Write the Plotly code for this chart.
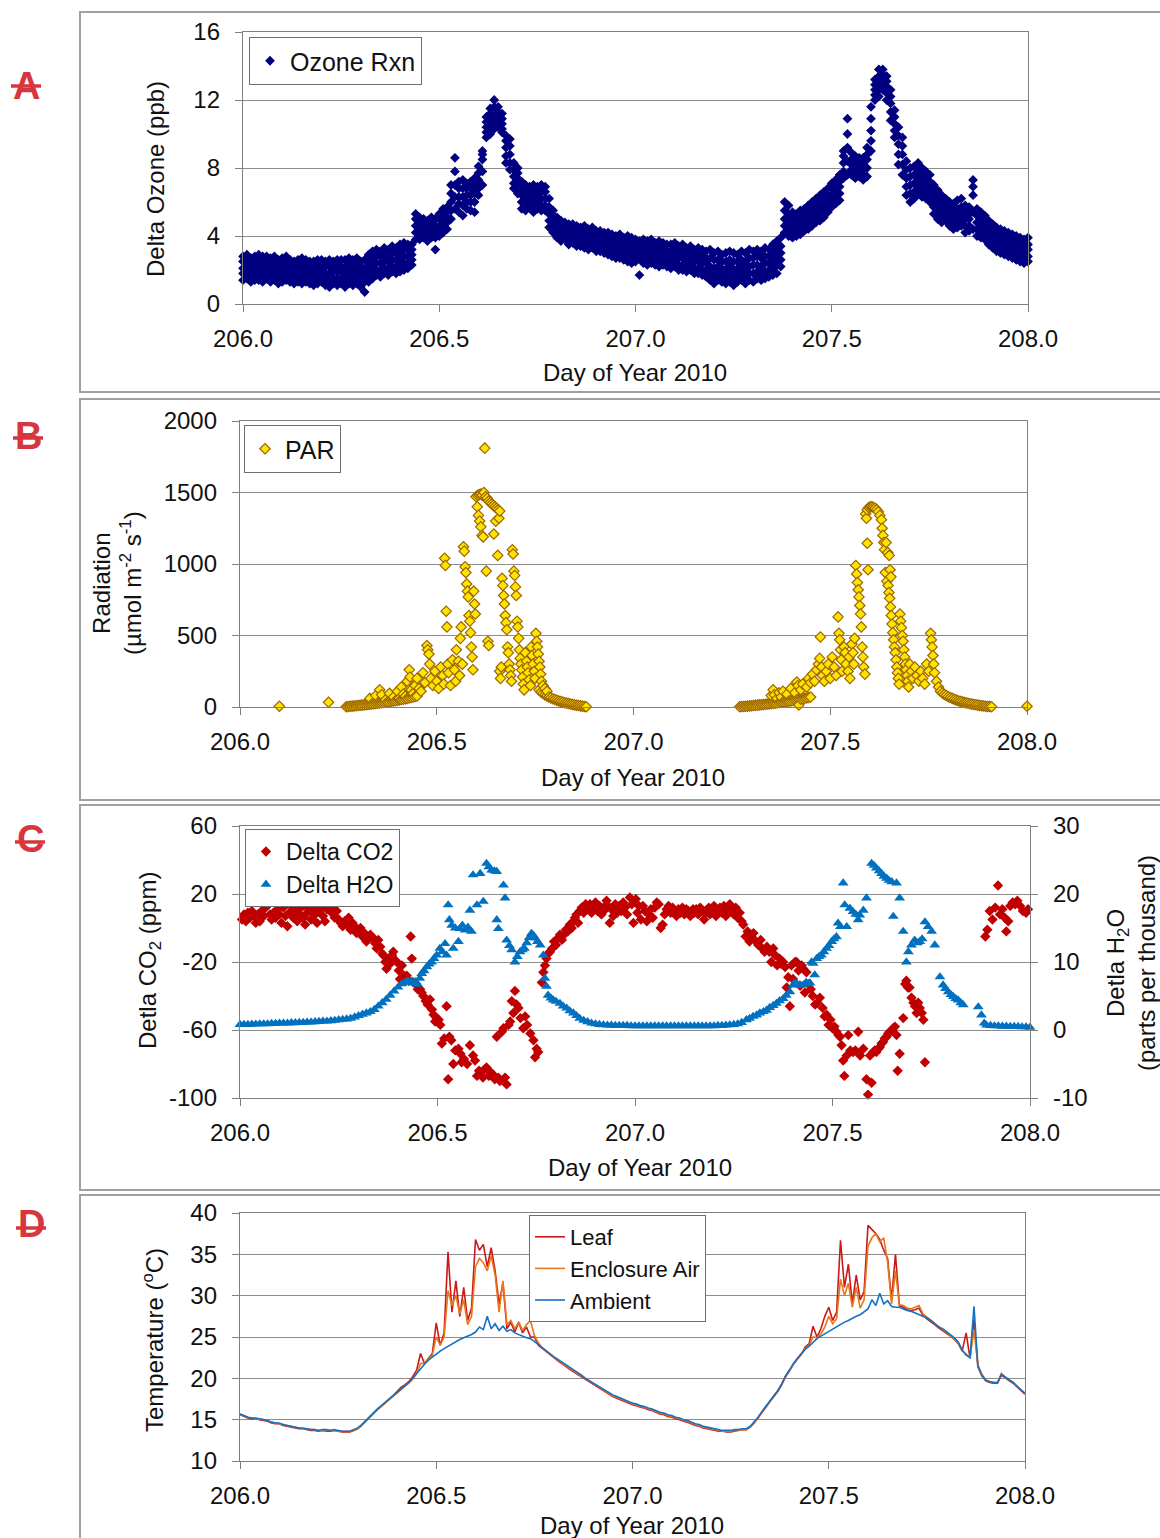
import plotly.graph_objects as go

W, H = 1160, 1538
FONT = "Arial, Liberation Sans, sans-serif"
TXT = "#111111"

def px(v):
    return v / W

def py(v):
    return 1 - v / H

# ---------------- shared axis data ----------------
x_tick_vals = [206.0, 206.5, 207.0, 207.5, 208.0]
x_tick_text = ["206.0", "206.5", "207.0", "207.5", "208.0"]
x_title = "Day of Year 2010"

# sample days (0.01 d) used by panels A and D
grid_day = [
    206.00, 206.01, 206.02, 206.03, 206.04, 206.05, 206.06, 206.07, 206.08, 206.09,
    206.10, 206.11, 206.12, 206.13, 206.14, 206.15, 206.16, 206.17, 206.18, 206.19,
    206.20, 206.21, 206.22, 206.23, 206.24, 206.25, 206.26, 206.27, 206.28, 206.29,
    206.30, 206.31, 206.32, 206.33, 206.34, 206.35, 206.36, 206.37, 206.38, 206.39,
    206.40, 206.41, 206.42, 206.43, 206.44, 206.45, 206.46, 206.47, 206.48, 206.49,
    206.50, 206.51, 206.52, 206.53, 206.54, 206.55, 206.56, 206.57, 206.58, 206.59,
    206.60, 206.61, 206.62, 206.63, 206.64, 206.65, 206.66, 206.67, 206.68, 206.69,
    206.70, 206.71, 206.72, 206.73, 206.74, 206.75, 206.76, 206.77, 206.78, 206.79,
    206.80, 206.81, 206.82, 206.83, 206.84, 206.85, 206.86, 206.87, 206.88, 206.89,
    206.90, 206.91, 206.92, 206.93, 206.94, 206.95, 206.96, 206.97, 206.98, 206.99,
    207.00, 207.01, 207.02, 207.03, 207.04, 207.05, 207.06, 207.07, 207.08, 207.09,
    207.10, 207.11, 207.12, 207.13, 207.14, 207.15, 207.16, 207.17, 207.18, 207.19,
    207.20, 207.21, 207.22, 207.23, 207.24, 207.25, 207.26, 207.27, 207.28, 207.29,
    207.30, 207.31, 207.32, 207.33, 207.34, 207.35, 207.36, 207.37, 207.38, 207.39,
    207.40, 207.41, 207.42, 207.43, 207.44, 207.45, 207.46, 207.47, 207.48, 207.49,
    207.50, 207.51, 207.52, 207.53, 207.54, 207.55, 207.56, 207.57, 207.58, 207.59,
    207.60, 207.61, 207.62, 207.63, 207.64, 207.65, 207.66, 207.67, 207.68, 207.69,
    207.70, 207.71, 207.72, 207.73, 207.74, 207.75, 207.76, 207.77, 207.78, 207.79,
    207.80, 207.81, 207.82, 207.83, 207.84, 207.85, 207.86, 207.87, 207.88, 207.89,
    207.90, 207.91, 207.92, 207.93, 207.94, 207.95, 207.96, 207.97, 207.98, 207.99,
    208.00,
]

# ---------------- Panel A: Delta ozone (ppb), five readings across the scatter band ----------------
ozone_low = [
    1.4, 1.5, 1.3, 1.4, 1.4, 1.3, 1.5, 1.3, 1.4, 1.2,
    1.3, 1.4, 1.3, 1.2, 1.3, 1.2, 1.3, 1.2, 1.1, 1.2,
    1.3, 1.1, 1.0, 1.2, 1.1, 1.2, 1.0, 1.2, 1.1, 1.2,
    1.0, 0.7, 1.3, 1.5, 1.7, 1.6, 1.8, 1.7, 1.9, 1.8,
    1.9, 2.0, 2.1, 2.3, 3.8, 3.8, 3.9, 3.7, 3.9, 3.2,
    4.0, 4.2, 4.4, 5.0, 5.6, 5.4, 5.2, 5.6, 5.5, 5.4,
    6.4, 7.0, 9.8, 10.0, 10.3, 10.4, 10.1, 8.3, 7.9, 6.8,
    6.5, 5.6, 5.5, 5.7, 5.4, 5.6, 5.5, 5.5, 4.5, 4.2,
    3.9, 3.7, 3.8, 3.5, 3.6, 3.4, 3.4, 3.3, 3.2, 3.3,
    3.1, 3.1, 3.0, 2.9, 2.8, 2.7, 2.7, 2.6, 2.5, 2.4,
    2.5, 1.7, 2.4, 2.3, 2.4, 2.3, 2.2, 2.3, 2.2, 2.1,
    2.2, 2.0, 2.0, 1.9, 2.0, 1.8, 1.8, 1.7, 1.6, 1.4,
    1.2, 1.4, 1.3, 1.2, 1.3, 1.1, 1.3, 1.4, 1.2, 1.4,
    1.3, 1.5, 1.4, 1.5, 1.6, 1.7, 1.8, 2.2, 4.2, 4.0,
    3.9, 4.0, 4.1, 4.3, 4.4, 4.6, 4.8, 4.9, 5.1, 5.4,
    5.7, 5.9, 6.1, 7.4, 7.6, 7.6, 7.4, 7.5, 7.3, 7.5,
    9.0, 12.0, 12.2, 12.6, 12.0, 10.8, 9.8, 8.2, 7.6, 6.4,
    6.0, 6.2, 6.5, 6.3, 6.2, 6.0, 5.3, 5.0, 4.8, 4.9,
    4.6, 4.4, 4.5, 4.6, 4.2, 4.3, 4.4, 4.0, 3.9, 3.8,
    3.5, 3.3, 3.1, 3.0, 2.9, 2.8, 2.7, 2.6, 2.5, 2.4,
    2.5,
]
ozone_lower_mid = [
    1.8, 1.8, 1.6, 1.7, 1.8, 1.7, 1.8, 1.6, 1.7, 1.6,
    1.6, 1.7, 1.6, 1.5, 1.7, 1.5, 1.6, 1.5, 1.4, 1.5,
    1.6, 1.5, 1.4, 1.5, 1.5, 1.5, 1.4, 1.6, 1.5, 1.6,
    1.4, 1.3, 1.6, 1.8, 2.0, 2.0, 2.1, 2.1, 2.2, 2.2,
    2.3, 2.4, 2.4, 2.6, 4.2, 4.1, 4.1, 4.0, 4.1, 3.9,
    4.3, 4.5, 4.8, 5.5, 6.3, 5.9, 5.8, 6.0, 6.0, 6.0,
    6.8, 7.8, 10.1, 10.4, 10.7, 10.7, 10.3, 8.7, 8.3, 7.1,
    6.9, 6.0, 5.8, 6.0, 5.8, 5.9, 5.8, 5.8, 4.9, 4.5,
    4.2, 4.0, 4.0, 3.8, 3.8, 3.7, 3.6, 3.6, 3.5, 3.5,
    3.4, 3.3, 3.3, 3.2, 3.1, 3.0, 3.0, 2.9, 2.9, 2.8,
    2.8, 2.7, 2.7, 2.6, 2.7, 2.6, 2.5, 2.6, 2.5, 2.4,
    2.5, 2.3, 2.3, 2.2, 2.3, 2.1, 2.1, 2.0, 2.0, 1.8,
    1.6, 1.8, 1.7, 1.6, 1.7, 1.5, 1.7, 1.8, 1.6, 1.8,
    1.8, 1.9, 1.8, 1.9, 2.0, 2.1, 2.3, 2.6, 4.6, 4.4,
    4.2, 4.3, 4.4, 4.6, 4.7, 4.9, 5.1, 5.3, 5.5, 5.7,
    6.0, 6.2, 6.5, 7.8, 8.4, 7.9, 7.7, 7.8, 7.6, 8.0,
    9.6, 12.3, 12.6, 12.9, 12.4, 11.3, 10.2, 8.8, 8.2, 6.9,
    6.5, 6.6, 6.9, 6.7, 6.6, 6.4, 5.7, 5.4, 5.2, 5.2,
    4.9, 4.7, 4.8, 4.9, 4.6, 4.6, 5.4, 4.4, 4.2, 4.1,
    3.8, 3.6, 3.4, 3.3, 3.2, 3.1, 3.0, 2.9, 2.8, 2.7,
    2.8,
]
ozone_mid = [
    2.1, 2.2, 2.0, 2.1, 2.2, 2.0, 2.1, 2.0, 2.1, 1.9,
    2.0, 2.1, 1.9, 1.9, 2.0, 1.9, 2.0, 1.8, 1.8, 1.9,
    2.0, 1.8, 1.8, 1.9, 1.9, 1.9, 1.8, 2.0, 1.9, 2.0,
    1.8, 1.7, 2.0, 2.2, 2.4, 2.4, 2.5, 2.5, 2.6, 2.6,
    2.7, 2.8, 2.8, 2.9, 4.6, 4.5, 4.4, 4.3, 4.4, 4.2,
    4.6, 4.9, 5.1, 6.0, 7.0, 6.3, 6.3, 6.4, 6.4, 6.5,
    7.3, 8.5, 10.4, 10.8, 11.1, 11.0, 10.6, 9.2, 8.8, 7.5,
    7.4, 6.4, 6.2, 6.3, 6.2, 6.3, 6.2, 6.2, 5.3, 4.8,
    4.5, 4.3, 4.3, 4.1, 4.1, 4.0, 3.9, 3.9, 3.8, 3.8,
    3.7, 3.6, 3.6, 3.5, 3.5, 3.3, 3.4, 3.3, 3.2, 3.2,
    3.1, 3.0, 3.0, 3.0, 3.1, 2.9, 2.9, 2.9, 2.8, 2.8,
    2.8, 2.7, 2.7, 2.6, 2.6, 2.5, 2.5, 2.4, 2.4, 2.2,
    2.1, 2.2, 2.1, 2.0, 2.2, 2.0, 2.1, 2.2, 2.1, 2.2,
    2.3, 2.3, 2.2, 2.4, 2.4, 2.6, 2.8, 3.0, 5.0, 4.8,
    4.6, 4.7, 4.8, 4.9, 5.1, 5.3, 5.5, 5.7, 5.9, 6.1,
    6.4, 6.6, 6.9, 8.3, 9.2, 8.2, 8.0, 8.1, 7.9, 8.5,
    10.2, 12.6, 13.0, 13.2, 12.8, 11.8, 10.6, 9.4, 8.8, 7.4,
    7.0, 7.1, 7.3, 7.1, 7.0, 6.8, 6.2, 5.9, 5.6, 5.5,
    5.3, 5.1, 5.2, 5.3, 5.0, 5.0, 6.4, 4.8, 4.6, 4.5,
    4.2, 4.0, 3.8, 3.7, 3.6, 3.5, 3.4, 3.3, 3.2, 3.1,
    3.2,
]
ozone_upper_mid = [
    2.5, 2.5, 2.4, 2.4, 2.5, 2.4, 2.5, 2.3, 2.4, 2.3,
    2.3, 2.4, 2.3, 2.2, 2.3, 2.3, 2.3, 2.2, 2.1, 2.2,
    2.3, 2.2, 2.2, 2.2, 2.3, 2.2, 2.2, 2.3, 2.2, 2.3,
    2.2, 2.1, 2.4, 2.6, 2.8, 2.8, 2.9, 2.8, 3.0, 3.0,
    3.1, 3.2, 3.2, 3.2, 5.0, 4.8, 4.7, 4.6, 4.8, 4.6,
    5.0, 5.2, 5.4, 6.5, 7.8, 6.8, 6.8, 6.8, 6.8, 7.0,
    7.7, 8.8, 10.7, 11.2, 11.6, 11.3, 10.9, 9.6, 9.3, 7.9,
    7.7, 6.8, 6.6, 6.6, 6.6, 6.6, 6.6, 6.6, 5.7, 5.2,
    4.8, 4.6, 4.6, 4.4, 4.4, 4.3, 4.2, 4.2, 4.1, 4.1,
    4.0, 3.9, 3.9, 3.8, 3.8, 3.7, 3.7, 3.6, 3.6, 3.5,
    3.4, 3.3, 3.4, 3.3, 3.4, 3.2, 3.3, 3.2, 3.1, 3.1,
    3.2, 3.0, 3.1, 2.9, 3.0, 2.8, 2.9, 2.8, 2.7, 2.7,
    2.6, 2.6, 2.5, 2.5, 2.6, 2.5, 2.5, 2.6, 2.5, 2.7,
    2.7, 2.8, 2.7, 2.8, 2.8, 3.0, 3.2, 3.4, 5.5, 5.3,
    5.0, 5.0, 5.1, 5.2, 5.4, 5.6, 5.8, 6.0, 6.2, 6.4,
    6.8, 7.0, 7.2, 8.7, 10.0, 8.5, 8.4, 8.4, 8.2, 8.8,
    10.9, 12.9, 13.4, 13.5, 13.1, 12.2, 11.0, 9.9, 9.3, 7.9,
    7.5, 7.6, 7.8, 7.5, 7.4, 7.2, 6.6, 6.3, 6.0, 5.8,
    5.6, 5.5, 5.6, 5.7, 5.4, 5.3, 6.9, 5.2, 5.0, 4.8,
    4.5, 4.3, 4.1, 4.0, 3.9, 3.8, 3.7, 3.6, 3.5, 3.4,
    3.5,
]
ozone_high = [
    2.8, 2.9, 2.7, 2.8, 2.9, 2.8, 2.8, 2.7, 2.8, 2.6,
    2.7, 2.8, 2.6, 2.5, 2.6, 2.7, 2.6, 2.5, 2.5, 2.6,
    2.6, 2.5, 2.6, 2.5, 2.6, 2.6, 2.6, 2.7, 2.6, 2.7,
    2.5, 2.6, 2.9, 3.1, 3.2, 3.1, 3.3, 3.2, 3.4, 3.3,
    3.5, 3.6, 3.5, 3.5, 5.3, 5.1, 5.0, 4.9, 5.1, 5.0,
    5.3, 5.6, 5.7, 7.0, 8.6, 7.2, 7.3, 7.1, 7.2, 7.4,
    8.1, 9.0, 11.0, 11.5, 12.0, 11.6, 11.2, 9.9, 9.7, 8.3,
    8.0, 7.2, 7.0, 6.9, 7.0, 6.9, 7.0, 6.9, 6.2, 5.5,
    5.1, 4.9, 4.8, 4.7, 4.7, 4.6, 4.5, 4.6, 4.4, 4.5,
    4.3, 4.3, 4.2, 4.2, 4.1, 4.0, 4.1, 3.9, 4.0, 3.9,
    3.8, 3.7, 3.8, 3.7, 3.8, 3.6, 3.7, 3.6, 3.5, 3.5,
    3.6, 3.4, 3.5, 3.3, 3.4, 3.2, 3.3, 3.2, 3.1, 3.2,
    3.0, 3.1, 2.9, 3.0, 3.1, 3.0, 2.9, 3.1, 3.0, 3.2,
    3.1, 3.2, 3.1, 3.3, 3.2, 3.5, 3.7, 3.9, 6.0, 5.8,
    5.4, 5.3, 5.5, 5.6, 5.8, 6.0, 6.2, 6.4, 6.6, 6.8,
    7.1, 7.3, 7.6, 9.0, 10.9, 8.9, 8.7, 8.6, 8.6, 9.2,
    11.6, 13.2, 13.8, 13.8, 13.4, 12.6, 11.4, 10.4, 9.8, 8.4,
    8.0, 8.1, 8.3, 8.0, 7.8, 7.6, 7.0, 6.7, 6.4, 6.2,
    6.0, 5.9, 6.1, 6.2, 5.8, 5.7, 7.3, 5.6, 5.4, 5.2,
    4.9, 4.7, 4.5, 4.4, 4.3, 4.2, 4.1, 4.0, 3.9, 3.8,
    3.9,
]

# ---------------- Panel B: PAR (umol m-2 s-1) ----------------
par_dawn1_day = [
    206.270, 206.275, 206.280, 206.285, 206.290, 206.295, 206.300, 206.305, 206.310, 206.315,
    206.320, 206.325, 206.330, 206.335, 206.340, 206.345, 206.350, 206.355, 206.360, 206.365,
    206.370, 206.375, 206.380, 206.385, 206.390, 206.395, 206.400, 206.405, 206.410, 206.415,
    206.420, 206.425, 206.430, 206.435, 206.440, 206.445, 206.450,
]
par_dawn1_val = [
    2, 3, 5, 6, 7, 9, 10, 12, 13, 15,
    16, 18, 19, 21, 23, 25, 27, 28, 30, 32,
    34, 36, 38, 40, 42, 44, 47, 49, 52, 54,
    57, 60, 63, 66, 70, 73, 77,
]
par_dusk1_day = [
    206.760, 206.765, 206.770, 206.775, 206.780, 206.785, 206.790, 206.795, 206.800, 206.805,
    206.810, 206.815, 206.820, 206.825, 206.830, 206.835, 206.840, 206.845, 206.850, 206.855,
    206.860, 206.865, 206.870, 206.875, 206.880,
]
par_dusk1_val = [
    120, 105, 95, 85, 78, 70, 64, 58, 52, 47,
    42, 38, 34, 30, 27, 24, 21, 18, 15, 12,
    10, 8, 6, 4, 2,
]
par_dawn2_day = [
    207.270, 207.275, 207.280, 207.285, 207.290, 207.295, 207.300, 207.305, 207.310, 207.315,
    207.320, 207.325, 207.330, 207.335, 207.340, 207.345, 207.350, 207.355, 207.360, 207.365,
    207.370, 207.375, 207.380, 207.385, 207.390, 207.395, 207.400, 207.405, 207.410, 207.415,
    207.420, 207.425, 207.430, 207.435, 207.440, 207.445, 207.450,
]
par_dawn2_val = [
    2, 3, 4, 5, 6, 8, 9, 10, 12, 13,
    15, 16, 18, 19, 21, 22, 24, 26, 27, 29,
    31, 33, 35, 37, 39, 41, 43, 45, 48, 50,
    53, 55, 58, 61, 64, 67, 70,
]
par_dusk2_day = [
    207.780, 207.785, 207.790, 207.795, 207.800, 207.805, 207.810, 207.815, 207.820, 207.825,
    207.830, 207.835, 207.840, 207.845, 207.850, 207.855, 207.860, 207.865, 207.870, 207.875,
    207.880, 207.885, 207.890, 207.895, 207.900, 207.905, 207.910,
]
par_dusk2_val = [
    110, 98, 88, 80, 72, 66, 60, 54, 49, 44,
    40, 36, 32, 29, 26, 23, 20, 18, 16, 13,
    11, 9, 7, 5, 4, 3, 2,
]
par_points = [
    (206.100, 5), (206.225, 33),
    (206.330, 60), (206.345, 80), (206.355, 120), (206.360, 85), (206.370, 50), (206.380, 95),
    (206.390, 70), (206.400, 110), (206.405, 60), (206.410, 140), (206.415, 90), (206.420, 75),
    (206.425, 180), (206.430, 260), (206.432, 210), (206.435, 120), (206.440, 95), (206.445, 150),
    (206.450, 200), (206.455, 130), (206.460, 110), (206.465, 240), (206.470, 170), (206.475, 430),
    (206.477, 400), (206.480, 370), (206.482, 300), (206.485, 200), (206.490, 150), (206.495, 250),
    (206.500, 180), (206.505, 130), (206.510, 280), (206.515, 220), (206.518, 160), (206.520, 1040),
    (206.522, 990), (206.524, 670), (206.526, 560), (206.528, 300), (206.530, 240), (206.535, 150),
    (206.540, 330), (206.545, 260), (206.548, 180), (206.550, 400), (206.555, 320), (206.558, 220),
    (206.560, 480), (206.562, 560), (206.565, 300), (206.568, 1120), (206.570, 1090), (206.572, 980),
    (206.574, 940), (206.576, 860), (206.578, 810), (206.580, 770), (206.582, 640), (206.584, 600),
    (206.586, 520), (206.588, 420), (206.590, 350), (206.592, 260), (206.594, 810), (206.596, 720),
    (206.598, 650),
    (206.600, 1470), (206.604, 1480), (206.608, 1485), (206.612, 1490), (206.616, 1480), (206.620, 1500),
    (206.624, 1470), (206.628, 1460), (206.632, 1440), (206.636, 1430), (206.640, 1420), (206.644, 1410),
    (206.648, 1400), (206.652, 1390), (206.656, 1380), (206.660, 1370),
    (206.603, 1400), (206.606, 1340), (206.609, 1300), (206.612, 1260), (206.615, 1200), (206.618, 1190),
    (206.622, 1810), (206.626, 950), (206.630, 460), (206.632, 430), (206.645, 1210), (206.650, 1300),
    (206.655, 1060), (206.658, 1320),
    (206.660, 250), (206.662, 200), (206.664, 280), (206.666, 900), (206.668, 850), (206.670, 780),
    (206.672, 720), (206.674, 640), (206.676, 590), (206.678, 540), (206.680, 420), (206.682, 380),
    (206.684, 300), (206.686, 260), (206.688, 220), (206.690, 180), (206.692, 1100), (206.694, 1070),
    (206.696, 950), (206.698, 920), (206.700, 840), (206.702, 780), (206.704, 600), (206.706, 560),
    (206.708, 480), (206.710, 400), (206.712, 340), (206.714, 300), (206.716, 260), (206.718, 210),
    (206.720, 160), (206.722, 120), (206.725, 380), (206.728, 320), (206.730, 280), (206.732, 240),
    (206.735, 190), (206.738, 150), (206.740, 420), (206.742, 360), (206.745, 300), (206.748, 250),
    (206.750, 200), (206.752, 515), (206.754, 460), (206.756, 420), (206.758, 370), (206.760, 320),
    (206.762, 280), (206.764, 230), (206.766, 180), (206.770, 150), (206.775, 130), (206.780, 110),
    (207.350, 80), (207.355, 120), (207.358, 85), (207.365, 60), (207.370, 100), (207.375, 70),
    (207.380, 110), (207.390, 90), (207.400, 130), (207.410, 100), (207.415, 175), (207.418, 150),
    (207.420, 14), (207.425, 120), (207.430, 160), (207.440, 140), (207.445, 200), (207.450, 170),
    (207.455, 230), (207.460, 180), (207.465, 260), (207.470, 300), (207.473, 340), (207.475, 490),
    (207.478, 280), (207.480, 220), (207.485, 180), (207.490, 250), (207.495, 300), (207.500, 200),
    (207.505, 350), (207.510, 280), (207.515, 220), (207.520, 630), (207.522, 515), (207.524, 470),
    (207.526, 400), (207.528, 330), (207.530, 250), (207.535, 420), (207.538, 380), (207.540, 300),
    (207.545, 250), (207.548, 350), (207.550, 200), (207.555, 440), (207.558, 380), (207.560, 300),
    (207.562, 480), (207.565, 990), (207.567, 930), (207.569, 870), (207.571, 820), (207.573, 770),
    (207.575, 710), (207.577, 650), (207.579, 560), (207.581, 420), (207.583, 350), (207.585, 280),
    (207.588, 230),
    (207.590, 1350), (207.594, 1380), (207.598, 1395), (207.602, 1400), (207.606, 1400), (207.610, 1395),
    (207.614, 1390), (207.618, 1380), (207.622, 1365), (207.626, 1340), (207.630, 1310),
    (207.592, 1320), (207.594, 1145), (207.596, 960), (207.632, 1250), (207.634, 1200), (207.636, 1150),
    (207.638, 1100), (207.642, 1150), (207.646, 1080), (207.650, 1060), (207.652, 960), (207.654, 910),
    (207.640, 940), (207.644, 880), (207.647, 850), (207.649, 800), (207.651, 760), (207.653, 700),
    (207.655, 640), (207.657, 580), (207.659, 520), (207.661, 470), (207.663, 420), (207.665, 380),
    (207.667, 330), (207.669, 280), (207.671, 240), (207.673, 200), (207.675, 160), (207.677, 650),
    (207.679, 600), (207.681, 555), (207.683, 500), (207.685, 460), (207.687, 400), (207.689, 350),
    (207.691, 300), (207.693, 260), (207.695, 220), (207.697, 180), (207.699, 140), (207.702, 300),
    (207.706, 250), (207.710, 200), (207.715, 280), (207.720, 220), (207.725, 180), (207.730, 250),
    (207.735, 200), (207.740, 160), (207.745, 300), (207.750, 250), (207.755, 515), (207.757, 470),
    (207.759, 420), (207.761, 360), (207.763, 300), (207.765, 240), (207.770, 180), (207.775, 140),
    (208.000, 5),
]

# ---------------- Panel C: Delta CO2 (ppm) & Delta H2O (ppt) ----------------
co2_points = [
    (206.005, 5), (206.010, 8), (206.015, 4), (206.020, 9), (206.025, 6), (206.030, 10), (206.035, 7),
    (206.040, 3), (206.045, 8), (206.050, 4), (206.055, 10), (206.060, 7), (206.065, 12), (206.072, 14),
    (206.076, 8), (206.080, 5), (206.085, 9), (206.090, 6), (206.095, 11), (206.100, 8), (206.105, 3),
    (206.110, 12), (206.115, 7), (206.120, 1), (206.125, 9), (206.130, 13), (206.135, 6), (206.140, 10),
    (206.145, 4), (206.150, 8), (206.155, 12), (206.160, 6), (206.165, 2), (206.170, 9), (206.175, 11),
    (206.180, 5), (206.185, 12), (206.190, 8), (206.195, 3), (206.200, 10), (206.205, 13), (206.210, 7),
    (206.215, 4), (206.220, 11), (206.228, 14), (206.232, 9), (206.236, 12), (206.240, 6), (206.245, 10),
    (206.250, 5), (206.255, 3), (206.260, 1), (206.265, 4), (206.270, 2), (206.275, 6), (206.280, -1),
    (206.285, 3), (206.290, 1), (206.295, -3), (206.300, -2), (206.305, 0), (206.310, -5), (206.315, -3),
    (206.320, -8), (206.325, -6), (206.330, -4), (206.338, -6), (206.342, -9), (206.346, -12), (206.350, -7),
    (206.355, -11), (206.360, -15), (206.363, -16), (206.368, -20), (206.371, -24), (206.375, -18),
    (206.380, -21), (206.385, -16), (206.388, -14), (206.393, -19), (206.397, -20), (206.402, -25),
    (206.405, -30), (206.410, -22), (206.415, -28), (206.422, -28), (206.427, -31), (206.432, -5),
    (206.435, -18), (206.439, -32), (206.445, -33), (206.450, -36), (206.456, -36), (206.460, -38),
    (206.464, -40), (206.470, -43), (206.475, -45), (206.481, -42), (206.486, -48), (206.490, -51),
    (206.494, -55), (206.498, -53), (206.503, -54), (206.507, -57), (206.511, -68), (206.517, -65),
    (206.523, -46), (206.527, -89), (206.530, -64), (206.535, -66), (206.540, -80), (206.545, -72),
    (206.553, -71), (206.558, -74), (206.561, -79), (206.567, -77), (206.575, -80), (206.582, -69),
    (206.590, -75), (206.595, -78), (206.600, -87), (206.605, -84), (206.610, -85), (206.615, -88),
    (206.620, -83), (206.624, -82), (206.630, -87), (206.635, -85), (206.640, -86), (206.645, -89),
    (206.650, -64), (206.654, -88), (206.658, -90), (206.663, -61), (206.667, -59), (206.671, -88),
    (206.675, -92), (206.680, -57), (206.684, -55), (206.688, -43), (206.692, -50), (206.696, -37),
    (206.700, -45), (206.705, -47), (206.710, -53), (206.717, -59), (206.722, -52), (206.727, -57),
    (206.735, -62), (206.743, -66), (206.747, -76), (206.751, -71), (206.755, -73), (206.764, -32),
    (206.768, -26), (206.772, -22), (206.776, -18), (206.780, -15), (206.785, -14), (206.790, -12),
    (206.795, -8), (206.800, -10), (206.805, -6), (206.810, -4), (206.815, -7), (206.820, -4),
    (206.825, -1), (206.830, -2), (206.835, 2), (206.840, 0), (206.844, 4), (206.848, 6), (206.852, 8),
    (206.856, 3), (206.860, 10), (206.865, 12), (206.870, 9), (206.875, 14), (206.880, 11), (206.886, 14),
    (206.890, 9), (206.895, 12), (206.900, 15), (206.905, 10), (206.910, 13), (206.915, 8), (206.920, 12),
    (206.925, 11), (206.928, 16), (206.932, 13), (206.936, 3), (206.940, 11), (206.945, 7), (206.950, 14),
    (206.955, 9), (206.960, 13), (206.965, 10), (206.970, 15), (206.975, 12), (206.980, 8), (206.987, 18),
    (206.992, 14), (206.996, 3),
    (207.002, 17), (207.006, 9), (207.010, 13), (207.015, 5), (207.020, 13), (207.025, 10), (207.030, 4),
    (207.035, 8), (207.040, 11), (207.045, 6), (207.050, 12), (207.055, 15), (207.060, 14), (207.065, 0),
    (207.070, 2), (207.075, 8), (207.080, 11), (207.085, 13), (207.090, 9), (207.095, 12), (207.100, 10),
    (207.105, 7), (207.110, 11), (207.115, 9), (207.120, 12), (207.125, 8), (207.130, 11), (207.135, 10),
    (207.140, 7), (207.147, 11), (207.150, 9), (207.155, 11), (207.160, 8), (207.165, 12), (207.170, 10),
    (207.175, 5), (207.180, 9), (207.187, 12), (207.190, 8), (207.195, 11), (207.200, 13), (207.205, 7),
    (207.210, 10), (207.215, 12), (207.220, 9), (207.225, 13), (207.230, 7), (207.235, 11), (207.240, 14),
    (207.245, 10), (207.250, 8), (207.255, 12), (207.260, 6), (207.265, 9), (207.270, 4), (207.274, 2),
    (207.280, -5), (207.285, -2), (207.290, -8), (207.295, -5), (207.300, -3), (207.307, -8), (207.312, -10),
    (207.318, -7), (207.322, -12), (207.328, -14), (207.334, -11), (207.340, -14), (207.345, -20),
    (207.350, -12), (207.355, -16), (207.360, -22), (207.366, -18), (207.370, -21), (207.375, -20),
    (207.380, -23), (207.384, -35), (207.388, -29), (207.392, -46), (207.396, -22), (207.400, -30),
    (207.405, -20), (207.409, -20), (207.414, -25), (207.418, -34), (207.422, -22), (207.426, -24),
    (207.430, -38), (207.434, -26), (207.440, -33), (207.445, -36), (207.450, -40), (207.456, -45),
    (207.462, -44), (207.468, -41), (207.475, -47), (207.480, -52), (207.485, -51), (207.490, -57),
    (207.495, -54), (207.500, -59), (207.505, -58), (207.510, -61), (207.515, -63), (207.519, -64),
    (207.523, -69), (207.527, -78), (207.530, -87), (207.536, -75), (207.540, -63), (207.545, -72),
    (207.552, -73), (207.558, -72), (207.565, -61), (207.570, -75), (207.578, -71), (207.586, -89),
    (207.590, -98), (207.595, -75), (207.599, -91), (207.603, -73), (207.607, -72), (207.611, -73),
    (207.616, -71), (207.620, -70), (207.624, -68), (207.628, -67), (207.632, -65), (207.637, -64),
    (207.641, -62), (207.645, -61), (207.650, -60), (207.654, -59), (207.658, -58), (207.662, -63),
    (207.665, -84), (207.670, -74), (207.679, -53), (207.684, -33), (207.687, -31), (207.691, -35),
    (207.695, -35), (207.700, -41), (207.705, -44), (207.709, -46), (207.713, -50), (207.717, -44),
    (207.721, -47), (207.726, -50), (207.730, -54), (207.734, -79),
    (207.887, -5), (207.892, -1), (207.898, 10), (207.905, 5), (207.912, 12), (207.919, 25), (207.924, 8),
    (207.930, 11), (207.936, 6), (207.940, -2), (207.945, 4), (207.950, 13), (207.956, 15), (207.962, 14),
    (207.968, 16), (207.975, 13), (207.982, 10), (207.990, 9), (207.995, 11),
]

h2o_points = [
    (206.00, 0.8), (206.01, 0.8), (206.02, 0.8), (206.03, 0.85), (206.04, 0.85), (206.05, 0.9),
    (206.06, 0.9), (206.07, 0.9), (206.08, 0.95), (206.09, 0.95), (206.10, 1.0), (206.11, 1.0),
    (206.12, 1.0), (206.13, 1.05), (206.14, 1.05), (206.15, 1.1), (206.16, 1.1), (206.17, 1.15),
    (206.18, 1.15), (206.19, 1.2), (206.20, 1.25), (206.21, 1.3), (206.22, 1.3), (206.23, 1.35),
    (206.24, 1.4), (206.25, 1.5), (206.26, 1.55), (206.27, 1.6), (206.28, 1.7), (206.29, 1.9),
    (206.30, 2.1), (206.31, 2.3), (206.32, 2.5), (206.33, 2.7), (206.34, 3.0), (206.35, 3.5),
    (206.36, 4.0), (206.37, 4.5), (206.38, 5.1), (206.39, 5.7), (206.40, 6.3), (206.41, 6.8),
    (206.42, 7.1),
    (206.425, 7.2), (206.430, 7.0), (206.435, 7.2), (206.440, 6.9), (206.445, 7.1), (206.450, 6.7),
    (206.455, 7.6), (206.460, 8.3), (206.466, 8.7), (206.473, 9.3), (206.479, 9.7), (206.485, 10.0),
    (206.491, 10.5), (206.498, 11.0), (206.506, 12.0), (206.512, 11.5), (206.519, 12.7), (206.523, 11.0),
    (206.527, 18.4), (206.530, 16.2), (206.536, 15.4), (206.540, 12.0), (206.545, 15.0), (206.553, 13.0),
    (206.556, 14.9), (206.563, 15.4), (206.570, 14.7), (206.577, 15.1), (206.582, 17.6), (206.586, 14.5),
    (206.590, 22.8), (206.600, 18.4), (206.608, 23.0), (206.616, 18.9), (206.624, 24.5), (206.630, 24.0),
    (206.637, 23.5), (206.644, 23.4), (206.650, 23.3), (206.650, 16.2), (206.654, 14.9), (206.667, 21.3),
    (206.671, 19.4), (206.675, 13.2), (206.682, 12.4), (206.688, 11.8), (206.696, 10.0), (206.702, 10.8),
    (206.709, 11.5), (206.715, 11.8), (206.720, 12.0), (206.726, 12.8), (206.732, 13.6), (206.738, 14.2),
    (206.743, 13.9), (206.747, 13.5), (206.753, 13.0), (206.760, 12.5), (206.768, 11.0), (206.772, 7.6),
    (206.776, 6.4), (206.780, 5.1), (206.787, 4.7), (206.793, 4.4), (206.800, 4.2), (206.810, 3.9),
    (206.818, 3.5), (206.827, 3.2), (206.835, 2.8), (206.844, 2.5), (206.852, 2.1),
    (206.86, 1.7), (206.87, 1.4), (206.88, 1.2), (206.89, 1.0), (206.90, 0.9), (206.91, 0.8),
    (206.92, 0.75), (206.93, 0.7), (206.94, 0.7), (206.95, 0.65), (206.96, 0.65), (206.97, 0.65),
    (206.98, 0.65), (206.99, 0.6), (207.00, 0.6), (207.01, 0.6), (207.02, 0.6), (207.03, 0.6),
    (207.04, 0.6), (207.05, 0.6), (207.06, 0.6), (207.07, 0.6), (207.08, 0.6), (207.09, 0.6),
    (207.10, 0.6), (207.11, 0.6), (207.12, 0.6), (207.13, 0.6), (207.14, 0.6), (207.15, 0.6),
    (207.16, 0.6), (207.17, 0.6), (207.18, 0.6), (207.19, 0.6), (207.20, 0.6), (207.21, 0.65),
    (207.22, 0.65), (207.23, 0.7), (207.24, 0.75), (207.25, 0.8), (207.26, 0.9), (207.27, 1.1),
    (207.282, 1.5), (207.290, 1.7), (207.299, 2.0), (207.308, 2.2), (207.316, 2.5), (207.325, 2.7),
    (207.333, 2.9), (207.341, 3.3), (207.350, 3.6), (207.358, 3.9), (207.366, 4.3), (207.375, 4.6),
    (207.383, 5.1), (207.392, 5.6), (207.400, 6.6), (207.405, 6.9), (207.410, 6.8), (207.417, 6.6),
    (207.426, 6.6), (207.433, 7.0), (207.438, 6.8), (207.443, 6.9), (207.447, 10.0), (207.451, 9.8),
    (207.455, 8.1), (207.460, 10.5), (207.466, 10.8), (207.472, 11.0), (207.478, 11.5), (207.485, 12.0),
    (207.491, 12.4), (207.498, 13.0), (207.504, 13.4), (207.510, 13.7), (207.514, 15.7), (207.520, 15.2),
    (207.527, 21.6), (207.531, 18.4), (207.536, 15.2), (207.544, 17.9), (207.552, 17.4), (207.559, 17.0),
    (207.565, 16.2), (207.569, 16.9), (207.578, 17.6), (207.586, 19.4), (207.599, 24.5), (207.605, 24.2),
    (207.611, 23.8), (207.618, 23.4), (207.624, 23.0), (207.630, 22.6), (207.637, 22.3), (207.643, 22.0),
    (207.650, 21.8), (207.654, 16.7), (207.662, 21.6), (207.670, 19.4), (207.679, 14.5), (207.687, 10.0),
    (207.692, 11.5), (207.700, 12.5), (207.708, 13.2), (207.715, 12.8), (207.721, 13.0), (207.727, 13.4),
    (207.734, 15.9), (207.742, 15.2), (207.751, 14.5), (207.759, 12.5), (207.772, 7.8), (207.780, 6.6),
    (207.786, 6.1), (207.793, 5.6), (207.800, 5.2), (207.806, 4.9), (207.812, 4.6), (207.818, 4.4),
    (207.825, 4.0), (207.831, 3.7), (207.869, 3.4), (207.877, 2.2), (207.884, 1.0),
    (207.89, 0.7), (207.90, 0.65), (207.91, 0.6), (207.92, 0.6), (207.93, 0.55), (207.94, 0.55),
    (207.95, 0.5), (207.96, 0.5), (207.97, 0.5), (207.98, 0.45), (207.99, 0.45), (208.00, 0.4),
]

# ---------------- Panel D: temperatures (deg C) at grid_day ----------------
temp_leaf = [
    15.6, 15.4, 15.2, 15.1, 15.1, 15.0, 14.9, 14.8, 14.6, 14.5,
    14.5, 14.3, 14.2, 14.1, 14.0, 13.9, 13.9, 13.8, 13.7, 13.7,
    13.6, 13.7, 13.6, 13.6, 13.7, 13.6, 13.5, 13.5, 13.5, 13.7,
    13.9, 14.3, 14.8, 15.3, 15.8, 16.2, 16.6, 17.0, 17.4, 17.9,
    18.4, 18.9, 19.2, 19.6, 20.2, 21.0, 23.0, 21.8, 22.4, 23.0,
    26.7, 24.0, 25.5, 35.3, 28.0, 31.8, 27.5, 31.0, 27.0, 28.5,
    36.8, 35.5, 36.2, 33.5, 35.8, 33.0, 29.0, 31.5, 26.0, 26.8,
    25.6, 26.8, 25.5, 26.2, 25.0, 25.0, 24.0, 23.6, 23.2, 22.8,
    22.4, 22.1, 21.8, 21.4, 21.1, 20.8, 20.5, 20.2, 19.8, 19.5,
    19.2, 18.9, 18.6, 18.3, 18.1, 17.8, 17.6, 17.4, 17.2, 17.0,
    16.8, 16.7, 16.5, 16.4, 16.2, 16.1, 15.9, 15.7, 15.6, 15.4,
    15.3, 15.1, 15.0, 14.8, 14.7, 14.5, 14.3, 14.2, 14.0, 13.9,
    13.8, 13.7, 13.6, 13.6, 13.5, 13.5, 13.6, 13.7, 13.8, 13.8,
    14.1, 14.6, 15.2, 15.9, 16.5, 17.2, 17.8, 18.4, 19.2, 20.2,
    20.9, 21.7, 22.3, 22.9, 23.8, 24.2, 26.3, 25.0, 26.0, 27.5,
    28.6, 27.0, 28.0, 36.7, 31.0, 33.8, 29.0, 32.5, 29.5, 30.5,
    38.5, 38.0, 37.5, 36.8, 35.5, 34.5, 29.5, 35.0, 28.8, 28.6,
    28.3, 28.2, 28.3, 28.5, 27.6, 27.2, 26.9, 26.5, 26.1, 25.8,
    25.5, 25.1, 24.7, 24.2, 23.3, 25.5, 22.4, 27.1, 21.4, 20.3,
    19.7, 19.5, 19.4, 19.4, 20.4, 20.0, 19.7, 19.4, 18.9, 18.5,
    18.1,
]
temp_enclosure = [
    15.7, 15.5, 15.3, 15.2, 15.1, 15.1, 15.0, 14.9, 14.7, 14.6,
    14.5, 14.4, 14.3, 14.2, 14.1, 14.0, 13.9, 13.9, 13.8, 13.8,
    13.7, 13.7, 13.7, 13.7, 13.7, 13.6, 13.6, 13.6, 13.6, 13.7,
    13.9, 14.3, 14.8, 15.3, 15.8, 16.2, 16.6, 17.0, 17.3, 17.7,
    18.1, 18.5, 18.9, 19.4, 19.9, 20.6, 21.8, 21.8, 22.3, 22.8,
    25.0, 24.0, 25.0, 30.6, 28.8, 30.0, 27.8, 29.5, 26.5, 27.5,
    33.5, 34.5, 34.0, 33.0, 34.8, 32.5, 28.0, 31.8, 26.5, 27.0,
    26.0, 26.8, 25.8, 26.5, 27.0, 25.2, 24.3, 23.7, 23.3, 22.9,
    22.5, 22.2, 21.9, 21.5, 21.2, 20.9, 20.6, 20.3, 19.9, 19.6,
    19.3, 19.0, 18.7, 18.4, 18.2, 17.9, 17.7, 17.5, 17.3, 17.1,
    16.9, 16.8, 16.6, 16.5, 16.3, 16.2, 16.0, 15.8, 15.7, 15.5,
    15.4, 15.2, 15.1, 14.9, 14.8, 14.6, 14.4, 14.3, 14.1, 14.0,
    13.9, 13.8, 13.7, 13.6, 13.6, 13.6, 13.7, 13.7, 13.8, 13.8,
    14.1, 14.6, 15.2, 15.9, 16.6, 17.3, 17.9, 18.5, 19.3, 20.3,
    21.0, 21.8, 22.4, 23.0, 23.6, 24.0, 25.0, 24.9, 25.4, 26.2,
    27.5, 26.6, 27.2, 32.0, 30.0, 31.5, 28.6, 31.0, 28.5, 29.5,
    36.0, 37.0, 37.5, 36.5, 37.0, 34.0, 29.0, 33.0, 28.9, 28.8,
    28.5, 28.4, 28.6, 28.8, 27.8, 27.4, 27.0, 26.6, 26.2, 25.9,
    25.6, 25.2, 24.8, 24.3, 23.4, 23.0, 22.5, 25.9, 21.6, 20.5,
    19.8, 19.6, 19.5, 19.5, 20.6, 20.1, 19.8, 19.5, 19.0, 18.6,
    18.2,
]
temp_ambient = [
    15.7, 15.5, 15.3, 15.2, 15.2, 15.1, 15.0, 14.9, 14.7, 14.6,
    14.6, 14.4, 14.3, 14.2, 14.1, 14.0, 14.0, 13.9, 13.8, 13.8,
    13.7, 13.8, 13.8, 13.7, 13.8, 13.7, 13.6, 13.6, 13.6, 13.8,
    14.0, 14.4, 14.9, 15.4, 15.9, 16.3, 16.7, 17.1, 17.4, 17.8,
    18.2, 18.6, 19.0, 19.5, 20.0, 20.6, 21.2, 21.7, 22.2, 22.6,
    23.0, 23.3, 23.6, 23.9, 24.2, 24.4, 24.7, 24.9, 25.1, 25.3,
    25.6, 26.2, 25.9, 27.5, 26.0, 26.6, 25.8, 26.3, 25.7, 25.9,
    25.5, 25.3, 25.1, 24.9, 24.8, 24.5, 24.1, 23.7, 23.3, 22.9,
    22.6, 22.3, 22.0, 21.6, 21.3, 21.0, 20.7, 20.4, 20.0, 19.7,
    19.4, 19.1, 18.8, 18.5, 18.3, 18.0, 17.8, 17.6, 17.4, 17.2,
    17.0, 16.9, 16.7, 16.6, 16.4, 16.3, 16.1, 15.9, 15.8, 15.6,
    15.5, 15.3, 15.2, 15.0, 14.9, 14.7, 14.5, 14.4, 14.2, 14.1,
    14.0, 13.9, 13.8, 13.7, 13.7, 13.7, 13.8, 13.8, 13.9, 13.9,
    14.2, 14.7, 15.3, 16.0, 16.6, 17.3, 17.9, 18.5, 19.3, 20.3,
    21.0, 21.8, 22.4, 23.0, 23.5, 23.9, 24.4, 24.8, 25.1, 25.4,
    25.7, 26.0, 26.3, 26.5, 26.8, 27.0, 27.3, 27.5, 27.7, 28.0,
    28.4, 29.5, 28.8, 30.3, 29.0, 29.4, 28.7, 28.6, 28.6, 28.4,
    28.2, 28.1, 27.9, 27.7, 27.5, 27.3, 27.0, 26.6, 26.2, 26.0,
    25.7, 25.3, 24.9, 24.4, 23.4, 22.8, 22.5, 28.7, 21.5, 20.4,
    19.8, 19.6, 19.5, 19.5, 20.5, 20.1, 19.8, 19.5, 19.0, 18.6,
    18.2,
]

for arr in (ozone_low, ozone_lower_mid, ozone_mid, ozone_upper_mid, ozone_high,
            temp_leaf, temp_enclosure, temp_ambient):
    assert len(arr) == len(grid_day), len(arr)
assert len(par_dawn1_day) == len(par_dawn1_val)
assert len(par_dusk1_day) == len(par_dusk1_val)
assert len(par_dawn2_day) == len(par_dawn2_val)
assert len(par_dusk2_day) == len(par_dusk2_val)

# ---------------- tick data ----------------
ozone_ticks = [0, 4, 8, 12, 16]
par_ticks = [0, 500, 1000, 1500, 2000]
co2_ticks = [-100, -60, -20, 20, 60]
co2_tick_text = ["-100", "-60", "-20", "20", "60"]
h2o_ticks = [-10, 0, 10, 20, 30]
h2o_tick_text = ["-10", "0", "10", "20", "30"]
temp_ticks = [10, 15, 20, 25, 30, 35, 40]

# ---------------- colours ----------------
NAVY = "#000080"
PAR_FILL = "#FFE400"
PAR_EDGE = "#9C6500"
CO2_RED = "#C00000"
H2O_BLUE = "#0070C0"
LEAF_RED = "#CC1818"
ENC_ORANGE = "#E8761A"
AMB_BLUE = "#1272C4"
AXIS_GRAY = "#7f7f7f"
GRID_GRAY = "#8c8c8c"

fig = go.Figure()

# Panel A
oz_x, oz_y = [], []
for d, a, b, c, e, f in zip(grid_day, ozone_low, ozone_lower_mid, ozone_mid, ozone_upper_mid, ozone_high):
    oz_x += [d, d, d, d, d]
    oz_y += [a, b, c, e, f]
fig.add_trace(go.Scatter(
    x=oz_x, y=oz_y, mode="markers", name="Ozone Rxn",
    marker=dict(symbol="diamond", size=7.5, color=NAVY, line=dict(width=0)),
    xaxis="x", yaxis="y", legend="legend", cliponaxis=False))

# Panel B
par_all = (list(zip(par_dawn1_day, par_dawn1_val)) + list(zip(par_dusk1_day, par_dusk1_val))
           + list(zip(par_dawn2_day, par_dawn2_val)) + list(zip(par_dusk2_day, par_dusk2_val))
           + par_points)
par_all.sort(key=lambda p: p[0])
fig.add_trace(go.Scatter(
    x=[p[0] for p in par_all], y=[p[1] for p in par_all], mode="markers", name="PAR",
    marker=dict(symbol="diamond", size=8, color=PAR_FILL, line=dict(width=1.2, color=PAR_EDGE)),
    xaxis="x2", yaxis="y2", legend="legend2", cliponaxis=False))

# Panel C
fig.add_trace(go.Scatter(
    x=[p[0] for p in co2_points], y=[p[1] for p in co2_points], mode="markers", name="Delta CO2",
    marker=dict(symbol="diamond", size=8, color=CO2_RED, line=dict(width=0)),
    xaxis="x3", yaxis="y3", legend="legend3", cliponaxis=False))
fig.add_trace(go.Scatter(
    x=[p[0] for p in h2o_points], y=[p[1] for p in h2o_points], mode="markers", name="Delta H2O",
    marker=dict(symbol="triangle-up", size=9.5, color=H2O_BLUE, line=dict(width=0)),
    xaxis="x3", yaxis="y5", legend="legend3", cliponaxis=False))

# Panel D
fig.add_trace(go.Scatter(x=grid_day, y=temp_leaf, mode="lines", name="Leaf",
                         line=dict(color=LEAF_RED, width=1.6), xaxis="x4", yaxis="y4", legend="legend4"))
fig.add_trace(go.Scatter(x=grid_day, y=temp_enclosure, mode="lines", name="Enclosure Air",
                         line=dict(color=ENC_ORANGE, width=1.6), xaxis="x4", yaxis="y4", legend="legend4"))
fig.add_trace(go.Scatter(x=grid_day, y=temp_ambient, mode="lines", name="Ambient",
                         line=dict(color=AMB_BLUE, width=1.6), xaxis="x4", yaxis="y4", legend="legend4"))

tick_font = dict(family=FONT, size=24, color=TXT)


def x_axis(x0, x1, anchor):
    return dict(domain=[px(x0), px(x1)], anchor=anchor, range=[206, 208], automargin=False,
                tickmode="array", tickvals=x_tick_vals, ticktext=x_tick_text,
                ticks="outside", ticklen=7, tickcolor=AXIS_GRAY, tickwidth=1.3,
                showline=True, linecolor=AXIS_GRAY, linewidth=1.3, mirror=True,
                showgrid=False, zeroline=False, tickfont=tick_font, ticklabelstandoff=6)


def y_axis(top, bottom, anchor, rng, vals, text=None):
    return dict(domain=[py(bottom), py(top)], anchor=anchor, range=rng, automargin=False,
                tickmode="array", tickvals=vals, ticktext=text if text else [str(v) for v in vals],
                ticks="outside", ticklen=7, tickcolor=AXIS_GRAY, tickwidth=1.3,
                showline=True, linecolor=AXIS_GRAY, linewidth=1.3, mirror=True,
                showgrid=True, gridcolor=GRID_GRAY, gridwidth=1.3,
                zeroline=False, tickfont=tick_font, ticklabelstandoff=10)


legend_common = dict(bgcolor="white", bordercolor="#6f6f6f", borderwidth=1,
                     xanchor="left", yanchor="top", tracegroupgap=0)

ann = []
title_font = dict(family=FONT, size=24, color=TXT)
for xc, yc, txt in [(635, 373, x_title), (633, 777, x_title), (640, 1167, x_title), (632, 1525, x_title)]:
    ann.append(dict(x=px(xc), y=py(yc), xref="paper", yref="paper", text=txt, showarrow=False,
                    xanchor="center", yanchor="middle", font=title_font))
for xc, yc, txt in [
    (156, 179, "Delta Ozone (ppb)"),
    (117, 583, "Radiation<br>(µmol m<sup>-2</sup> s<sup>-1</sup>)"),
    (149, 961, "Detla CO<sub>2</sub> (ppm)"),
    (1131, 963, "Detla H<sub>2</sub>O<br>(parts per thousand)"),
    (153, 1340, "Temperature (<sup>o</sup>C)"),
]:
    ann.append(dict(x=px(xc), y=py(yc), xref="paper", yref="paper", text=txt, showarrow=False,
                    textangle=-90, xanchor="center", yanchor="middle", font=title_font))

PANEL_RED = "#D8363D"
shapes = []
for letter, xc, yc, ys in [("A", 26, 86, 86), ("B", 28, 436, 438), ("C", 30, 839, 842), ("D", 31, 1224, 1228)]:
    ann.append(dict(x=px(xc), y=py(yc), xref="paper", yref="paper", text="<b>%s</b>" % letter,
                    showarrow=False, xanchor="center", yanchor="middle",
                    font=dict(family=FONT, size=38, color=PANEL_RED)))
    shapes.append(dict(type="line", xref="paper", yref="paper", x0=px(xc - 15), x1=px(xc + 15),
                       y0=py(ys), y1=py(ys), line=dict(color=PANEL_RED, width=3.5)))

for top, bottom in [(12, 392), (399, 800), (805, 1190), (1195, 1560)]:
    shapes.append(dict(type="rect", xref="paper", yref="paper", x0=px(80), x1=1.02,
                       y0=py(bottom), y1=py(top), line=dict(color="#a0a0a0", width=2),
                       fillcolor="rgba(0,0,0,0)", layer="below"))

fig.update_layout(
    width=W, height=H, margin=dict(l=0, r=0, t=0, b=0, autoexpand=False),
    paper_bgcolor="white", plot_bgcolor="white",
    font=dict(family=FONT, size=24, color=TXT),
    showlegend=True,
    xaxis=x_axis(243, 1028, "y"),
    yaxis=y_axis(32, 304, "x", [0, 16], ozone_ticks),
    xaxis2=x_axis(240, 1027, "y2"),
    yaxis2=y_axis(421, 707, "x2", [0, 2000], par_ticks),
    xaxis3=x_axis(240, 1030, "y3"),
    yaxis3=y_axis(826, 1098, "x3", [-100, 60], co2_ticks, co2_tick_text),
    yaxis5=dict(overlaying="y3", side="right", anchor="x3", range=[-10, 30], automargin=False,
                tickmode="array", tickvals=h2o_ticks, ticktext=h2o_tick_text,
                ticks="outside", ticklen=7,
                tickcolor=AXIS_GRAY, tickwidth=1.3, showline=True, linecolor=AXIS_GRAY,
                linewidth=1.3, showgrid=False, zeroline=False, tickfont=tick_font,
                ticklabelstandoff=10),
    xaxis4=x_axis(240, 1025, "y4"),
    yaxis4=y_axis(1213, 1461, "x4", [10, 40], temp_ticks),
    legend=dict(x=px(249), y=py(37), font=dict(family=FONT, size=25, color=TXT), **legend_common),
    legend2=dict(x=px(244), y=py(425), font=dict(family=FONT, size=25, color=TXT), **legend_common),
    legend3=dict(x=px(245), y=py(829), font=dict(family=FONT, size=23, color=TXT), **legend_common),
    legend4=dict(x=px(529), y=py(1215), font=dict(family=FONT, size=22, color=TXT), **legend_common),
    annotations=ann,
    shapes=shapes,
)

fig.write_html("out.html")
